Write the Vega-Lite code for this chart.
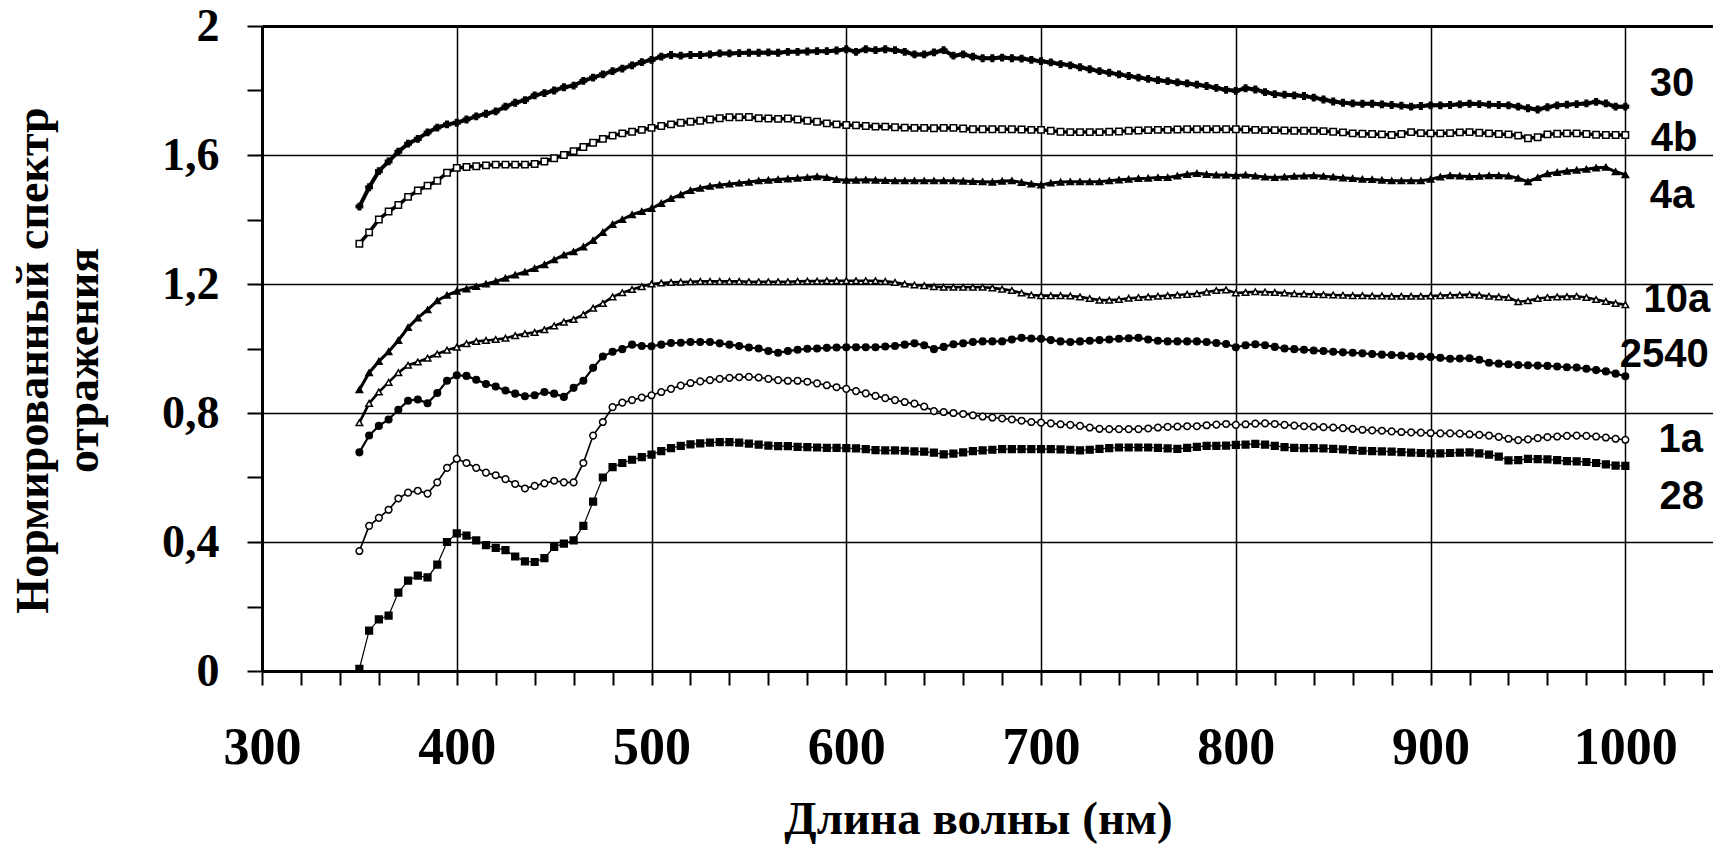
{
"$schema":"https://vega.github.io/schema/vega-lite/v6.json",
"autosize":{"type":"none"},
"padding":{"left":262,"top":26,"right":0,"bottom":176},
"width":1451,"height":645,
"background":"white",
"config":{"view":{"stroke":null}},
"datasets":{
"spec":[
{"w":350,"s30":1.44,"s4b":1.325,"s4a":0.872,"s10a":0.77,"s2540":0.678,"s1a":0.372,"s28":0.007},
{"w":355,"s30":1.50,"s4b":1.36,"s4a":0.925,"s10a":0.83,"s2540":0.73,"s1a":0.45,"s28":0.125},
{"w":360,"s30":1.55,"s4b":1.40,"s4a":0.96,"s10a":0.865,"s2540":0.76,"s1a":0.475,"s28":0.16},
{"w":365,"s30":1.58,"s4b":1.425,"s4a":0.99,"s10a":0.895,"s2540":0.78,"s1a":0.50,"s28":0.172},
{"w":370,"s30":1.61,"s4b":1.445,"s4a":1.025,"s10a":0.925,"s2540":0.81,"s1a":0.535,"s28":0.243},
{"w":375,"s30":1.635,"s4b":1.47,"s4a":1.065,"s10a":0.948,"s2540":0.838,"s1a":0.553,"s28":0.28},
{"w":380,"s30":1.65,"s4b":1.49,"s4a":1.095,"s10a":0.958,"s2540":0.842,"s1a":0.559,"s28":0.296},
{"w":385,"s30":1.67,"s4b":1.505,"s4a":1.12,"s10a":0.97,"s2540":0.83,"s1a":0.55,"s28":0.29},
{"w":390,"s30":1.685,"s4b":1.52,"s4a":1.148,"s10a":0.983,"s2540":0.862,"s1a":0.585,"s28":0.33},
{"w":395,"s30":1.695,"s4b":1.545,"s4a":1.165,"s10a":0.995,"s2540":0.90,"s1a":0.63,"s28":0.40},
{"w":400,"s30":1.70,"s4b":1.56,"s4a":1.178,"s10a":1.004,"s2540":0.917,"s1a":0.658,"s28":0.427},
{"w":405,"s30":1.71,"s4b":1.563,"s4a":1.185,"s10a":1.015,"s2540":0.915,"s1a":0.645,"s28":0.42},
{"w":410,"s30":1.72,"s4b":1.565,"s4a":1.192,"s10a":1.022,"s2540":0.903,"s1a":0.63,"s28":0.405},
{"w":415,"s30":1.728,"s4b":1.568,"s4a":1.2,"s10a":1.025,"s2540":0.89,"s1a":0.615,"s28":0.39},
{"w":420,"s30":1.735,"s4b":1.57,"s4a":1.208,"s10a":1.028,"s2540":0.882,"s1a":0.607,"s28":0.382},
{"w":425,"s30":1.75,"s4b":1.57,"s4a":1.218,"s10a":1.032,"s2540":0.87,"s1a":0.595,"s28":0.375},
{"w":430,"s30":1.762,"s4b":1.57,"s4a":1.228,"s10a":1.04,"s2540":0.86,"s1a":0.58,"s28":0.355},
{"w":435,"s30":1.77,"s4b":1.57,"s4a":1.237,"s10a":1.046,"s2540":0.852,"s1a":0.566,"s28":0.34},
{"w":440,"s30":1.785,"s4b":1.572,"s4a":1.248,"s10a":1.05,"s2540":0.855,"s1a":0.574,"s28":0.338},
{"w":445,"s30":1.792,"s4b":1.58,"s4a":1.26,"s10a":1.058,"s2540":0.865,"s1a":0.582,"s28":0.35},
{"w":450,"s30":1.80,"s4b":1.59,"s4a":1.275,"s10a":1.07,"s2540":0.86,"s1a":0.59,"s28":0.385},
{"w":455,"s30":1.81,"s4b":1.60,"s4a":1.29,"s10a":1.082,"s2540":0.85,"s1a":0.585,"s28":0.395},
{"w":460,"s30":1.815,"s4b":1.612,"s4a":1.30,"s10a":1.09,"s2540":0.878,"s1a":0.585,"s28":0.405},
{"w":465,"s30":1.83,"s4b":1.625,"s4a":1.315,"s10a":1.105,"s2540":0.90,"s1a":0.645,"s28":0.45},
{"w":470,"s30":1.84,"s4b":1.638,"s4a":1.335,"s10a":1.125,"s2540":0.94,"s1a":0.73,"s28":0.525},
{"w":475,"s30":1.85,"s4b":1.65,"s4a":1.36,"s10a":1.14,"s2540":0.975,"s1a":0.772,"s28":0.60},
{"w":480,"s30":1.86,"s4b":1.66,"s4a":1.385,"s10a":1.16,"s2540":0.99,"s1a":0.818,"s28":0.632},
{"w":485,"s30":1.868,"s4b":1.667,"s4a":1.40,"s10a":1.173,"s2540":0.998,"s1a":0.832,"s28":0.645},
{"w":490,"s30":1.878,"s4b":1.672,"s4a":1.415,"s10a":1.183,"s2540":1.012,"s1a":0.84,"s28":0.655},
{"w":495,"s30":1.888,"s4b":1.678,"s4a":1.425,"s10a":1.192,"s2540":1.008,"s1a":0.848,"s28":0.663},
{"w":500,"s30":1.895,"s4b":1.684,"s4a":1.434,"s10a":1.20,"s2540":1.007,"s1a":0.855,"s28":0.671},
{"w":505,"s30":1.905,"s4b":1.69,"s4a":1.45,"s10a":1.203,"s2540":1.012,"s1a":0.865,"s28":0.682},
{"w":510,"s30":1.91,"s4b":1.695,"s4a":1.465,"s10a":1.205,"s2540":1.017,"s1a":0.875,"s28":0.691},
{"w":515,"s30":1.908,"s4b":1.70,"s4a":1.477,"s10a":1.206,"s2540":1.018,"s1a":0.885,"s28":0.698},
{"w":520,"s30":1.91,"s4b":1.703,"s4a":1.49,"s10a":1.207,"s2540":1.02,"s1a":0.893,"s28":0.703},
{"w":525,"s30":1.91,"s4b":1.706,"s4a":1.497,"s10a":1.208,"s2540":1.02,"s1a":0.898,"s28":0.706},
{"w":530,"s30":1.912,"s4b":1.71,"s4a":1.503,"s10a":1.208,"s2540":1.02,"s1a":0.902,"s28":0.708},
{"w":535,"s30":1.915,"s4b":1.714,"s4a":1.507,"s10a":1.208,"s2540":1.016,"s1a":0.906,"s28":0.71},
{"w":540,"s30":1.915,"s4b":1.717,"s4a":1.51,"s10a":1.208,"s2540":1.012,"s1a":0.909,"s28":0.71},
{"w":545,"s30":1.916,"s4b":1.717,"s4a":1.513,"s10a":1.208,"s2540":1.008,"s1a":0.911,"s28":0.708},
{"w":550,"s30":1.917,"s4b":1.718,"s4a":1.516,"s10a":1.207,"s2540":1.003,"s1a":0.912,"s28":0.705},
{"w":555,"s30":1.917,"s4b":1.714,"s4a":1.52,"s10a":1.207,"s2540":1.0,"s1a":0.91,"s28":0.702},
{"w":560,"s30":1.918,"s4b":1.713,"s4a":1.522,"s10a":1.207,"s2540":0.992,"s1a":0.906,"s28":0.699},
{"w":565,"s30":1.917,"s4b":1.712,"s4a":1.524,"s10a":1.207,"s2540":0.987,"s1a":0.902,"s28":0.697},
{"w":570,"s30":1.92,"s4b":1.713,"s4a":1.526,"s10a":1.207,"s2540":0.992,"s1a":0.9,"s28":0.697},
{"w":575,"s30":1.92,"s4b":1.71,"s4a":1.528,"s10a":1.208,"s2540":0.996,"s1a":0.9,"s28":0.695},
{"w":580,"s30":1.921,"s4b":1.706,"s4a":1.53,"s10a":1.209,"s2540":0.999,"s1a":0.897,"s28":0.694},
{"w":585,"s30":1.922,"s4b":1.703,"s4a":1.533,"s10a":1.209,"s2540":1.0,"s1a":0.892,"s28":0.693},
{"w":590,"s30":1.922,"s4b":1.698,"s4a":1.53,"s10a":1.21,"s2540":1.002,"s1a":0.886,"s28":0.692},
{"w":595,"s30":1.924,"s4b":1.695,"s4a":1.524,"s10a":1.21,"s2540":1.003,"s1a":0.88,"s28":0.692},
{"w":600,"s30":1.928,"s4b":1.693,"s4a":1.522,"s10a":1.21,"s2540":1.004,"s1a":0.875,"s28":0.691},
{"w":605,"s30":1.92,"s4b":1.692,"s4a":1.522,"s10a":1.21,"s2540":1.004,"s1a":0.868,"s28":0.69},
{"w":610,"s30":1.928,"s4b":1.69,"s4a":1.523,"s10a":1.21,"s2540":1.004,"s1a":0.861,"s28":0.688},
{"w":615,"s30":1.925,"s4b":1.688,"s4a":1.522,"s10a":1.21,"s2540":1.004,"s1a":0.853,"s28":0.685},
{"w":620,"s30":1.928,"s4b":1.688,"s4a":1.521,"s10a":1.208,"s2540":1.006,"s1a":0.846,"s28":0.684},
{"w":625,"s30":1.925,"s4b":1.686,"s4a":1.52,"s10a":1.205,"s2540":1.008,"s1a":0.84,"s28":0.684},
{"w":630,"s30":1.92,"s4b":1.685,"s4a":1.52,"s10a":1.2,"s2540":1.012,"s1a":0.834,"s28":0.683},
{"w":635,"s30":1.912,"s4b":1.684,"s4a":1.52,"s10a":1.197,"s2540":1.016,"s1a":0.829,"s28":0.681},
{"w":640,"s30":1.912,"s4b":1.684,"s4a":1.52,"s10a":1.195,"s2540":1.01,"s1a":0.82,"s28":0.68},
{"w":645,"s30":1.918,"s4b":1.683,"s4a":1.52,"s10a":1.192,"s2540":0.998,"s1a":0.806,"s28":0.677},
{"w":650,"s30":1.925,"s4b":1.684,"s4a":1.52,"s10a":1.19,"s2540":1.005,"s1a":0.803,"s28":0.672},
{"w":655,"s30":1.908,"s4b":1.684,"s4a":1.52,"s10a":1.19,"s2540":1.013,"s1a":0.8,"s28":0.674},
{"w":660,"s30":1.912,"s4b":1.682,"s4a":1.519,"s10a":1.19,"s2540":1.016,"s1a":0.797,"s28":0.678},
{"w":665,"s30":1.905,"s4b":1.68,"s4a":1.518,"s10a":1.19,"s2540":1.02,"s1a":0.793,"s28":0.682},
{"w":670,"s30":1.90,"s4b":1.68,"s4a":1.517,"s10a":1.19,"s2540":1.022,"s1a":0.789,"s28":0.684},
{"w":675,"s30":1.90,"s4b":1.68,"s4a":1.516,"s10a":1.188,"s2540":1.022,"s1a":0.786,"s28":0.686},
{"w":680,"s30":1.902,"s4b":1.68,"s4a":1.519,"s10a":1.184,"s2540":1.022,"s1a":0.783,"s28":0.688},
{"w":685,"s30":1.90,"s4b":1.68,"s4a":1.52,"s10a":1.18,"s2540":1.028,"s1a":0.78,"s28":0.688},
{"w":690,"s30":1.899,"s4b":1.679,"s4a":1.515,"s10a":1.172,"s2540":1.033,"s1a":0.776,"s28":0.688},
{"w":695,"s30":1.895,"s4b":1.678,"s4a":1.51,"s10a":1.166,"s2540":1.031,"s1a":0.772,"s28":0.688},
{"w":700,"s30":1.891,"s4b":1.678,"s4a":1.507,"s10a":1.164,"s2540":1.03,"s1a":0.77,"s28":0.688},
{"w":705,"s30":1.887,"s4b":1.675,"s4a":1.513,"s10a":1.164,"s2540":1.026,"s1a":0.768,"s28":0.688},
{"w":710,"s30":1.882,"s4b":1.672,"s4a":1.516,"s10a":1.164,"s2540":1.022,"s1a":0.765,"s28":0.687},
{"w":715,"s30":1.878,"s4b":1.671,"s4a":1.517,"s10a":1.163,"s2540":1.02,"s1a":0.763,"s28":0.686},
{"w":720,"s30":1.872,"s4b":1.671,"s4a":1.517,"s10a":1.16,"s2540":1.022,"s1a":0.76,"s28":0.684},
{"w":725,"s30":1.866,"s4b":1.671,"s4a":1.517,"s10a":1.155,"s2540":1.024,"s1a":0.755,"s28":0.686},
{"w":730,"s30":1.86,"s4b":1.671,"s4a":1.517,"s10a":1.15,"s2540":1.026,"s1a":0.751,"s28":0.689},
{"w":735,"s30":1.855,"s4b":1.672,"s4a":1.52,"s10a":1.15,"s2540":1.028,"s1a":0.75,"s28":0.691},
{"w":740,"s30":1.85,"s4b":1.673,"s4a":1.523,"s10a":1.152,"s2540":1.03,"s1a":0.75,"s28":0.693},
{"w":745,"s30":1.845,"s4b":1.675,"s4a":1.525,"s10a":1.156,"s2540":1.032,"s1a":0.75,"s28":0.693},
{"w":750,"s30":1.84,"s4b":1.676,"s4a":1.527,"s10a":1.158,"s2540":1.033,"s1a":0.75,"s28":0.693},
{"w":755,"s30":1.836,"s4b":1.677,"s4a":1.528,"s10a":1.16,"s2540":1.028,"s1a":0.752,"s28":0.693},
{"w":760,"s30":1.832,"s4b":1.678,"s4a":1.53,"s10a":1.162,"s2540":1.024,"s1a":0.755,"s28":0.692},
{"w":765,"s30":1.829,"s4b":1.678,"s4a":1.53,"s10a":1.164,"s2540":1.022,"s1a":0.757,"s28":0.69},
{"w":770,"s30":1.825,"s4b":1.679,"s4a":1.535,"s10a":1.166,"s2540":1.022,"s1a":0.758,"s28":0.689},
{"w":775,"s30":1.822,"s4b":1.68,"s4a":1.54,"s10a":1.168,"s2540":1.022,"s1a":0.759,"s28":0.692},
{"w":780,"s30":1.818,"s4b":1.68,"s4a":1.543,"s10a":1.17,"s2540":1.022,"s1a":0.759,"s28":0.695},
{"w":785,"s30":1.814,"s4b":1.68,"s4a":1.54,"s10a":1.175,"s2540":1.02,"s1a":0.762,"s28":0.698},
{"w":790,"s30":1.808,"s4b":1.68,"s4a":1.538,"s10a":1.18,"s2540":1.017,"s1a":0.764,"s28":0.698},
{"w":795,"s30":1.802,"s4b":1.68,"s4a":1.538,"s10a":1.182,"s2540":1.014,"s1a":0.766,"s28":0.699},
{"w":800,"s30":1.799,"s4b":1.68,"s4a":1.536,"s10a":1.172,"s2540":1.004,"s1a":0.763,"s28":0.701},
{"w":805,"s30":1.807,"s4b":1.679,"s4a":1.538,"s10a":1.174,"s2540":1.01,"s1a":0.765,"s28":0.702},
{"w":810,"s30":1.803,"s4b":1.678,"s4a":1.535,"s10a":1.176,"s2540":1.013,"s1a":0.767,"s28":0.704},
{"w":815,"s30":1.795,"s4b":1.677,"s4a":1.532,"s10a":1.175,"s2540":1.01,"s1a":0.768,"s28":0.702},
{"w":820,"s30":1.789,"s4b":1.677,"s4a":1.53,"s10a":1.174,"s2540":1.005,"s1a":0.766,"s28":0.698},
{"w":825,"s30":1.787,"s4b":1.676,"s4a":1.532,"s10a":1.172,"s2540":1.0,"s1a":0.763,"s28":0.694},
{"w":830,"s30":1.785,"s4b":1.675,"s4a":1.534,"s10a":1.17,"s2540":0.998,"s1a":0.761,"s28":0.692},
{"w":835,"s30":1.783,"s4b":1.675,"s4a":1.535,"s10a":1.169,"s2540":0.996,"s1a":0.759,"s28":0.691},
{"w":840,"s30":1.778,"s4b":1.675,"s4a":1.536,"s10a":1.168,"s2540":0.994,"s1a":0.758,"s28":0.691},
{"w":845,"s30":1.772,"s4b":1.674,"s4a":1.534,"s10a":1.167,"s2540":0.992,"s1a":0.756,"s28":0.69},
{"w":850,"s30":1.766,"s4b":1.672,"s4a":1.532,"s10a":1.166,"s2540":0.99,"s1a":0.755,"s28":0.689},
{"w":855,"s30":1.762,"s4b":1.67,"s4a":1.529,"s10a":1.165,"s2540":0.988,"s1a":0.753,"s28":0.687},
{"w":860,"s30":1.76,"s4b":1.667,"s4a":1.527,"s10a":1.164,"s2540":0.987,"s1a":0.751,"s28":0.685},
{"w":865,"s30":1.759,"s4b":1.666,"s4a":1.525,"s10a":1.164,"s2540":0.985,"s1a":0.748,"s28":0.683},
{"w":870,"s30":1.759,"s4b":1.665,"s4a":1.524,"s10a":1.163,"s2540":0.983,"s1a":0.746,"s28":0.682},
{"w":875,"s30":1.757,"s4b":1.664,"s4a":1.522,"s10a":1.163,"s2540":0.981,"s1a":0.745,"s28":0.681},
{"w":880,"s30":1.755,"s4b":1.662,"s4a":1.52,"s10a":1.162,"s2540":0.98,"s1a":0.743,"s28":0.68},
{"w":885,"s30":1.753,"s4b":1.665,"s4a":1.52,"s10a":1.162,"s2540":0.978,"s1a":0.741,"s28":0.679},
{"w":890,"s30":1.75,"s4b":1.671,"s4a":1.52,"s10a":1.162,"s2540":0.976,"s1a":0.74,"s28":0.677},
{"w":895,"s30":1.752,"s4b":1.668,"s4a":1.52,"s10a":1.162,"s2540":0.975,"s1a":0.739,"s28":0.676},
{"w":900,"s30":1.754,"s4b":1.667,"s4a":1.525,"s10a":1.163,"s2540":0.974,"s1a":0.738,"s28":0.675},
{"w":905,"s30":1.754,"s4b":1.667,"s4a":1.532,"s10a":1.164,"s2540":0.971,"s1a":0.737,"s28":0.675},
{"w":910,"s30":1.755,"s4b":1.668,"s4a":1.536,"s10a":1.165,"s2540":0.968,"s1a":0.737,"s28":0.676},
{"w":915,"s30":1.757,"s4b":1.67,"s4a":1.535,"s10a":1.166,"s2540":0.969,"s1a":0.736,"s28":0.677},
{"w":920,"s30":1.759,"s4b":1.671,"s4a":1.533,"s10a":1.167,"s2540":0.97,"s1a":0.734,"s28":0.678},
{"w":925,"s30":1.758,"s4b":1.669,"s4a":1.534,"s10a":1.165,"s2540":0.965,"s1a":0.732,"s28":0.675},
{"w":930,"s30":1.756,"s4b":1.667,"s4a":1.536,"s10a":1.162,"s2540":0.956,"s1a":0.73,"s28":0.671},
{"w":935,"s30":1.755,"s4b":1.665,"s4a":1.536,"s10a":1.16,"s2540":0.953,"s1a":0.726,"s28":0.665},
{"w":940,"s30":1.754,"s4b":1.664,"s4a":1.535,"s10a":1.158,"s2540":0.951,"s1a":0.72,"s28":0.653},
{"w":945,"s30":1.75,"s4b":1.66,"s4a":1.528,"s10a":1.145,"s2540":0.949,"s1a":0.716,"s28":0.654},
{"w":950,"s30":1.745,"s4b":1.652,"s4a":1.517,"s10a":1.148,"s2540":0.948,"s1a":0.718,"s28":0.658},
{"w":955,"s30":1.741,"s4b":1.655,"s4a":1.53,"s10a":1.155,"s2540":0.947,"s1a":0.722,"s28":0.657},
{"w":960,"s30":1.748,"s4b":1.664,"s4a":1.542,"s10a":1.158,"s2540":0.946,"s1a":0.725,"s28":0.656},
{"w":965,"s30":1.754,"s4b":1.666,"s4a":1.546,"s10a":1.16,"s2540":0.944,"s1a":0.727,"s28":0.654},
{"w":970,"s30":1.756,"s4b":1.667,"s4a":1.55,"s10a":1.161,"s2540":0.942,"s1a":0.729,"s28":0.651},
{"w":975,"s30":1.758,"s4b":1.667,"s4a":1.553,"s10a":1.162,"s2540":0.941,"s1a":0.73,"s28":0.65},
{"w":980,"s30":1.76,"s4b":1.665,"s4a":1.556,"s10a":1.158,"s2540":0.937,"s1a":0.729,"s28":0.648},
{"w":985,"s30":1.765,"s4b":1.663,"s4a":1.56,"s10a":1.152,"s2540":0.933,"s1a":0.727,"s28":0.645},
{"w":990,"s30":1.76,"s4b":1.662,"s4a":1.562,"s10a":1.146,"s2540":0.929,"s1a":0.724,"s28":0.641},
{"w":995,"s30":1.75,"s4b":1.662,"s4a":1.548,"s10a":1.14,"s2540":0.922,"s1a":0.72,"s28":0.637},
{"w":1000,"s30":1.75,"s4b":1.662,"s4a":1.539,"s10a":1.136,"s2540":0.914,"s1a":0.717,"s28":0.636}
],
"labels":[
{"label":"30","w":1024,"v":1.82},
{"label":"4b","w":1025,"v":1.651},
{"label":"4a","w":1024,"v":1.474},
{"label":"10a","w":1026.5,"v":1.151},
{"label":"2540","w":1020,"v":0.98},
{"label":"1a","w":1028.5,"v":0.717},
{"label":"28","w":1029,"v":0.539}
]
},
"layer":[
{
"data":{"name":"spec"},
"transform":[{"fold":["s30","s4b","s4a","s10a","s2540","s1a","s28"],"as":["series","value"]}],
"mark":{"type":"line","color":"black","clip":true},
"encoding":{
"x":{"field":"w","type":"quantitative","scale":{"domain":[300,1045],"nice":false,"zero":false},
"axis":{"orient":"bottom","values":[300,320,340,360,380,400,420,440,460,480,500,520,540,560,580,600,620,640,660,680,700,720,740,760,780,800,820,840,860,880,900,920,940,960,980,1000,1020,1040],
"labelExpr":"datum.value % 100 === 0 ? toString(datum.value) : ''",
"grid":true,"gridColor":"black","gridWidth":1.5,
"gridOpacity":{"condition":{"test":"datum.value % 100 === 0 && datum.value > 300","value":1},"value":0},
"domainColor":"black","domainWidth":3,"tickColor":"black","tickWidth":2,"tickSize":14,
"labelFont":"Liberation Serif","labelFontWeight":"bold","labelFontSize":52,"labelColor":"black","labelPadding":37,"labelFlush":false,"labelOverlap":false,"labelBaseline":"top",
"title":"Длина волны (нм)","titleFont":"Liberation Serif","titleFontSize":47,"titleFontWeight":"bold","titleColor":"black","titleX":716,"titleY":162,"titleBaseline":"alphabetic","titleAlign":"center"}},
"y":{"field":"value","type":"quantitative","scale":{"domain":[0,2],"nice":false,"zero":false},
"axis":{"orient":"left","values":[0,0.1,0.2,0.3,0.4,0.5,0.6,0.7,0.8,0.9,1,1.1,1.2,1.3,1.4,1.5,1.6,1.7,1.8,1.9,2],
"labelExpr":"round(datum.value*10) % 4 === 0 ? replace(toString(round(datum.value*10)/10), '.', ',') : ''",
"grid":true,"gridColor":"black","gridWidth":1.5,
"gridOpacity":{"condition":{"test":"round(datum.value*10) % 4 === 0 && datum.value > 0.05 && datum.value < 1.95","value":1},"value":0},
"domainColor":"black","domainWidth":3,"tickColor":"black","tickWidth":2,"tickSize":15,
"labelFont":"Liberation Serif","labelFontWeight":"bold","labelFontSize":46,"labelColor":"black","labelPadding":28,"labelFlush":false,"labelOverlap":false,
"title":["Нормированный спектр","отражения"],"titleFont":"Liberation Serif","titleFontSize":46,"titleFontWeight":"bold","titleColor":"black","titleX":-215,"titleY":334,"titleAlign":"center","titleBaseline":"alphabetic","titleLineHeight":50}},
"detail":{"field":"series"},
"strokeWidth":{"field":"series","type":"nominal","scale":{"domain":["s30","s4b","s4a","s10a","s2540","s1a","s28"],"range":[4,1.2,4,2.5,5,1,5]},"legend":null}
}
},
{
"data":{"name":"spec"},
"transform":[{"fold":["s30","s4b","s4a","s10a","s2540","s1a","s28"],"as":["series","value"]}],
"mark":{"type":"point","filled":true,"stroke":"black","strokeWidth":1.5,"opacity":1,"clip":true},
"encoding":{
"x":{"field":"w","type":"quantitative","axis":null},
"y":{"field":"value","type":"quantitative"},
"shape":{"field":"series","type":"nominal","scale":{"domain":["s30","s4b","s4a","s10a","s2540","s1a","s28"],"range":["cross","square","triangle-up","triangle-up","circle","circle","square"]},"legend":null},
"size":{"field":"series","type":"nominal","scale":{"domain":["s30","s4b","s4a","s10a","s2540","s1a","s28"],"range":[40,45,45,70,35,24,55]},"legend":null},
"fill":{"field":"series","type":"nominal","scale":{"domain":["s30","s4b","s4a","s10a","s2540","s1a","s28"],"range":["black","white","black","white","black","white","black"]},"legend":null}
}
},
{
"data":{"name":"labels"},
"mark":{"type":"text","font":"Liberation Sans","fontWeight":"bold","fontSize":40,"align":"center","baseline":"middle","color":"black"},
"encoding":{
"x":{"field":"w","type":"quantitative","axis":{"orient":"top","domain":true,"domainWidth":3,"domainColor":"black","ticks":false,"labels":false,"grid":false,"title":null}},
"y":{"field":"v","type":"quantitative"},
"text":{"field":"label"}
}
}
],
"resolve":{"axis":{"x":"independent"}}
}
